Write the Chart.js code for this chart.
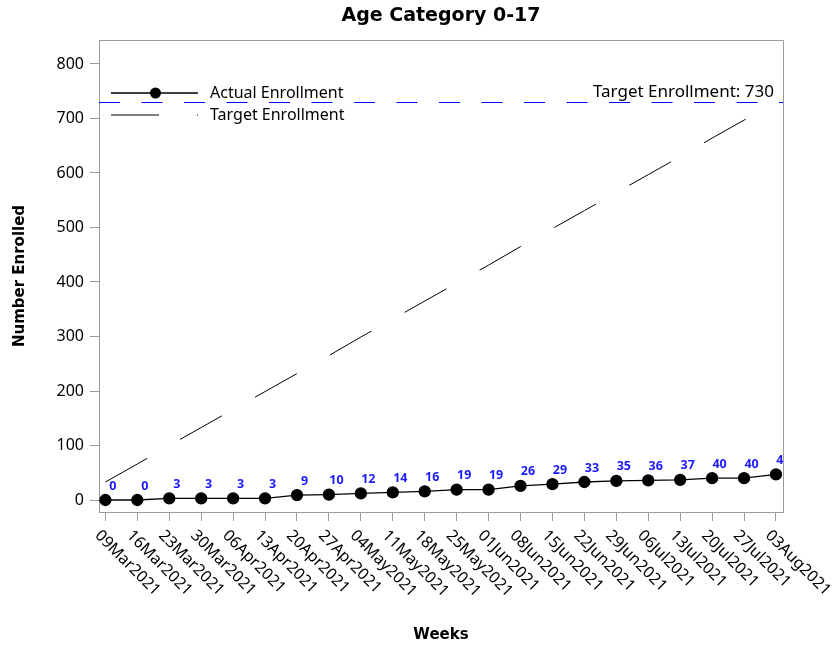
<!DOCTYPE html>
<html>
<head>
<meta charset="utf-8">
<script src="https://cdn.jsdelivr.net/npm/chart.js@4.4.1/dist/chart.umd.min.js"></script>
<style>
  html, body { margin: 0; padding: 0; background: #fff; }
  #wrap { width: 837px; height: 649px; }
</style>
</head>
<body>
<div id="wrap"><canvas id="enroll-chart" width="837" height="649"></canvas></div>
<script>
// Weeks on the x axis
const weeks = ['09Mar2021', '16Mar2021', '23Mar2021', '30Mar2021', '06Apr2021', '13Apr2021',
  '20Apr2021', '27Apr2021', '04May2021', '11May2021', '18May2021', '25May2021', '01Jun2021',
  '08Jun2021', '15Jun2021', '22Jun2021', '29Jun2021', '06Jul2021', '13Jul2021', '20Jul2021',
  '27Jul2021', '03Aug2021'];

// Cumulative actual enrollment
const actualEnrollment = [0, 0, 3, 3, 3, 3, 9, 10, 12, 14, 16, 19, 19, 26, 29, 33, 35, 36, 37, 40, 40, 47];

// Planned enrollment line
const targetLine = [33, 66, 100, 133, 166, 199, 232, 265, 299, 332, 365, 398, 431, 465, 498, 531,
  564, 597, 630, 664, 697, 730];

const targetEnrollment = 730;
const yTicks = [0, 100, 200, 300, 400, 500, 600, 700, 800];

const FONT = "'Noto Sans', sans-serif";
const BOLD_FONT = "'DejaVu Sans', sans-serif";
const AXIS_GRAY = '#9a9a9a';
const LABEL_BLUE = '#1a1aff';

// Frame, target line, data labels, rotated week labels, legend
const extrasPlugin = {
  id: 'extras',
  beforeDatasetsDraw(chart) {
    const { ctx, chartArea: a, scales: { y } } = chart;
    const ty = Math.round(y.getPixelForValue(targetEnrollment)) + 0.5;
    ctx.save();
    ctx.strokeStyle = '#0000ff';
    ctx.lineWidth = 1;
    ctx.setLineDash([21, 21.5]);
    ctx.beginPath();
    ctx.moveTo(a.left, ty);
    ctx.lineTo(a.right, ty);
    ctx.stroke();
    ctx.setLineDash([]);
    ctx.fillStyle = '#000';
    ctx.font = '17px ' + FONT;
    ctx.textAlign = 'right';
    ctx.textBaseline = 'alphabetic';
    ctx.fillText('Target Enrollment: ' + targetEnrollment, a.right - 9, ty - 6);
    ctx.restore();
  },
  afterDraw(chart) {
    const { ctx, chartArea: a, scales: { x } } = chart;
    ctx.save();

    // top and right sides of the frame
    ctx.strokeStyle = AXIS_GRAY;
    ctx.lineWidth = 1;
    ctx.beginPath();
    ctx.moveTo(a.left, a.top + 0.5);
    ctx.lineTo(a.right + 0.5, a.top + 0.5);
    ctx.lineTo(a.right + 0.5, a.bottom);
    ctx.stroke();

    // point labels
    const meta = chart.getDatasetMeta(0);
    ctx.save();
    ctx.beginPath();
    ctx.rect(a.left, a.top, a.right - a.left, a.bottom - a.top);
    ctx.clip();
    ctx.fillStyle = LABEL_BLUE;
    ctx.font = 'bold 12.5px ' + FONT;
    ctx.textAlign = 'center';
    ctx.textBaseline = 'middle';
    meta.data.forEach((pt, i) => {
      ctx.fillText(String(actualEnrollment[i]), pt.x + 7.5, pt.y - 14);
    });
    ctx.restore();

    // week labels, rotated 45 degrees downwards
    ctx.fillStyle = '#000';
    ctx.font = '16px ' + FONT;
    ctx.textAlign = 'left';
    ctx.textBaseline = 'middle';
    weeks.forEach((w, i) => {
      const px = x.getPixelForValue(i);
      ctx.save();
      ctx.translate(px - 8, a.bottom + 21);
      ctx.rotate(Math.PI / 4);
      ctx.fillText(w, 0, 0);
      ctx.restore();
    });

    // legend
    const lx = a.left + 12;
    const y1 = a.top + 53;
    const y2 = a.top + 75;
    ctx.strokeStyle = '#000';
    ctx.lineWidth = 1.3;
    ctx.beginPath();
    ctx.moveTo(lx, y1);
    ctx.lineTo(lx + 87, y1);
    ctx.stroke();
    ctx.beginPath();
    ctx.arc(lx + 44.5, y1, 5.5, 0, Math.PI * 2);
    ctx.fillStyle = '#000';
    ctx.fill();
    ctx.lineWidth = 1;
    ctx.setLineDash([48, 38]);
    ctx.beginPath();
    ctx.moveTo(lx, y2);
    ctx.lineTo(lx + 87, y2);
    ctx.stroke();
    ctx.setLineDash([]);
    ctx.font = '16px ' + FONT;
    ctx.textAlign = 'left';
    ctx.textBaseline = 'middle';
    ctx.fillText('Actual Enrollment', lx + 99, y1);
    ctx.fillText('Target Enrollment', lx + 99, y2);

    ctx.restore();
  }
};

const ctx = document.getElementById('enroll-chart').getContext('2d');
const enrollChart = new Chart(ctx, {
  type: 'line',
  data: {
    datasets: [{
      label: 'Actual Enrollment',
      data: actualEnrollment.map((v, i) => ({ x: i, y: v })),
      borderColor: '#000',
      backgroundColor: '#000',
      borderWidth: 1.3,
      pointRadius: 5.5,
      pointHoverRadius: 5.5,
      tension: 0
    }, {
      label: 'Target Enrollment',
      data: targetLine.map((v, i) => ({ x: i, y: v })),
      borderColor: '#000',
      borderWidth: 1,
      borderDash: [48, 38],
      pointRadius: 0,
      tension: 0
    }]
  },
  options: {
    responsive: false,
    animation: false,
    events: [],
    layout: { padding: { left: 0, right: 54, top: 0, bottom: 0 } },
    scales: {
      x: {
        type: 'linear',
        min: -0.2,
        max: 21.22,
        afterBuildTicks: (scale) => { scale.ticks = weeks.map((w, i) => ({ value: i })); },
        afterFit: (scale) => { scale.height = 137; },
        ticks: { display: false },
        grid: { drawOnChartArea: false, drawTicks: true, tickLength: 9, color: AXIS_GRAY },
        border: { display: true, color: AXIS_GRAY },
        title: {
          display: true,
          text: 'Weeks',
          color: '#000',
          font: { family: BOLD_FONT, size: 15, weight: 'bold' },
          padding: { top: 0, bottom: 5 }
        }
      },
      y: {
        min: -22,
        max: 844,
        afterBuildTicks: (scale) => { scale.ticks = yTicks.map(v => ({ value: v })); },
        afterFit: (scale) => { scale.width = 99; },
        ticks: {
          color: '#000',
          padding: 6,
          font: { family: FONT, size: 16 }
        },
        grid: { drawOnChartArea: false, drawTicks: true, tickLength: 9, color: AXIS_GRAY },
        border: { display: true, color: AXIS_GRAY },
        title: {
          display: true,
          text: 'Number Enrolled',
          color: '#000',
          font: { family: BOLD_FONT, size: 15, weight: 'bold' },
          padding: { top: 11, bottom: 0 }
        }
      }
    },
    plugins: {
      legend: { display: false },
      tooltip: { enabled: false },
      title: {
        display: true,
        fullSize: false,
        text: 'Age Category 0-17',
        color: '#000',
        font: { family: BOLD_FONT, size: 19, weight: 'bold' },
        padding: { top: 5, bottom: 12.2 }
      }
    }
  },
  plugins: [extrasPlugin]
});
</script>
</body>
</html>
